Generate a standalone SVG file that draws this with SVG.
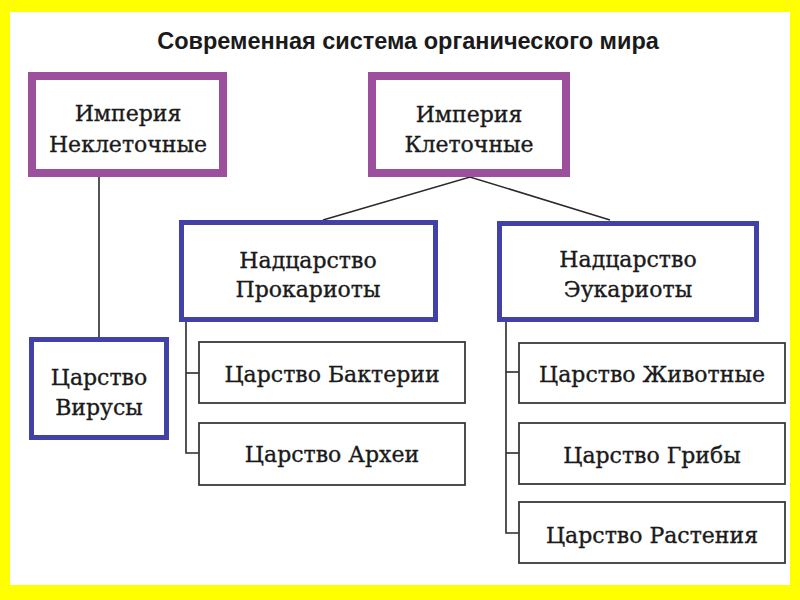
<svg xmlns="http://www.w3.org/2000/svg" width="800" height="600" viewBox="0 0 800 600">
<style>
.t{font-family:"DejaVu Serif","Liberation Serif",serif;font-size:22px;fill:#1a1a1a;stroke:#1a1a1a;stroke-width:0.35;text-anchor:middle}
.emp{fill:#fff;stroke:#9c4f9c;stroke-width:8}
.sup{fill:#fff;stroke:#4242a6;stroke-width:5}
.kin{fill:#fff;stroke:#3a3a3a;stroke-width:1.8}
.ln{fill:none;stroke:#2a2a2a;stroke-width:1.6}
</style>
<rect x="0" y="0" width="800" height="600" fill="#ffff00"/>
<rect x="10" y="12" width="780" height="573" fill="#fff"/>
<text x="408" y="49" style="font-family:'Liberation Sans',Arial,sans-serif;font-weight:bold;font-size:23.5px;fill:#1a1a1a;text-anchor:middle">Современная система органического мира</text>
<g id="connectors">
<line class="ln" x1="99" y1="177" x2="99" y2="337"/>
<polyline class="ln" points="323,220 470,177 610,220"/>
<polyline class="ln" points="186,322 186,453 199,453"/>
<line class="ln" x1="186" y1="373" x2="199" y2="373"/>
<polyline class="ln" points="506,322 506,533 519,533"/>
<line class="ln" x1="506" y1="372" x2="519" y2="372"/>
<line class="ln" x1="506" y1="453" x2="519" y2="453"/>
</g>
<g id="empire-noncell">
<rect class="emp" x="32" y="76" width="191" height="97"/>
<text class="t" x="128" y="121">Империя</text>
<text class="t" x="128" y="152">Неклеточные</text>
</g>
<g id="empire-cell">
<rect class="emp" x="372" y="76" width="194" height="97"/>
<text class="t" x="469" y="122">Империя</text>
<text class="t" x="469" y="152">Клеточные</text>
</g>
<g id="viruses">
<rect class="sup" x="31.5" y="339.5" width="135" height="98"/>
<text class="t" x="99" y="385">Царство</text>
<text class="t" x="99" y="415">Вирусы</text>
</g>
<g id="prokaryotes">
<rect class="sup" x="181.5" y="222.5" width="254" height="97"/>
<text class="t" x="308" y="268">Надцарство</text>
<text class="t" x="308" y="297">Прокариоты</text>
</g>
<g id="eukaryotes">
<rect class="sup" x="499.5" y="223.5" width="257" height="96"/>
<text class="t" x="628" y="267">Надцарство</text>
<text class="t" x="628" y="297">Эукариоты</text>
</g>
<g id="bacteria">
<rect class="kin" x="199" y="342" width="266" height="61"/>
<text class="t" x="332" y="382">Царство Бактерии</text>
</g>
<g id="archaea">
<rect class="kin" x="199" y="423" width="266" height="62"/>
<text class="t" x="332" y="462">Царство Археи</text>
</g>
<g id="animals">
<rect class="kin" x="519" y="343" width="266" height="60"/>
<text class="t" x="652" y="382">Царство Животные</text>
</g>
<g id="fungi">
<rect class="kin" x="519" y="423" width="266" height="61"/>
<text class="t" x="652" y="463">Царство Грибы</text>
</g>
<g id="plants">
<rect class="kin" x="519" y="502" width="266" height="61"/>
<text class="t" x="652" y="543">Царство Растения</text>
</g>
</svg>
